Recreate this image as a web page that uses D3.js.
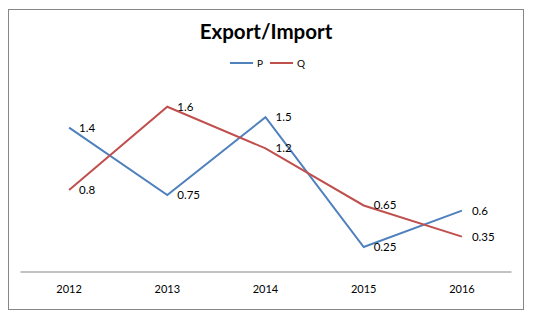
<!DOCTYPE html>
<html><head><meta charset="utf-8">
<script src="https://cdn.jsdelivr.net/npm/d3@7"></script>
<style>body{margin:0;background:#fff}svg{display:block}</style>
</head><body>
<script>
const categories = ["2012","2013","2014","2015","2016"];
const seriesP = [1.4, 0.75, 1.5, 0.25, 0.6];
const seriesQ = [0.8, 1.6, 1.2, 0.65, 0.35];
const seriesNames = ["P","Q"];
const colors = ["#4F81BD","#C0504D"];
const title = "Export/Import";

const W = 552, H = 332;
const svg = d3.select("body").append("svg").attr("width", W).attr("height", H);
const font = "Lato, 'Open Sans', sans-serif";

svg.append("rect").attr("x",8.5).attr("y",9.5).attr("width",515).attr("height",300)
  .attr("fill","#fff").attr("stroke","#868686").attr("stroke-width",1);

const x = d3.scaleBand().domain(categories).range([20, 511]);
const y = d3.scaleLinear().domain([0, 1.8]).range([273, 86]);

svg.append("text").attr("x",266).attr("y",39).attr("text-anchor","middle")
  .attr("font-family",font).attr("font-weight","bold").attr("font-size",20.5).text(title);

// legend
const leg = [{x:230},{x:270}];
seriesNames.forEach((n,i)=>{
  svg.append("line").attr("x1",leg[i].x).attr("x2",leg[i].x+23).attr("y1",63).attr("y2",63)
    .attr("stroke",colors[i]).attr("stroke-width",2);
  svg.append("text").attr("x",leg[i].x+27).attr("y",66.5).attr("font-family",font)
    .attr("font-size",10).text(n);
});

// axis
const axis = svg.append("g").attr("transform","translate(0,271.5)")
  .call(d3.axisBottom(x).tickSize(0).tickPadding(14));
axis.select(".domain").attr("stroke","#868686");
axis.selectAll("text").attr("font-family",font).attr("font-size",11).attr("fill","#000");

const cx = d => x(d) + x.bandwidth()/2;
const line = d3.line().x((d,i)=>cx(categories[i])).y(d=>y(d));
[seriesP, seriesQ].forEach((s,k)=>{
  svg.append("path").datum(s).attr("d",line).attr("fill","none")
    .attr("stroke",colors[k]).attr("stroke-width",2);
});
[seriesP, seriesQ].forEach((s,k)=>{
  svg.selectAll(null).data(s).enter().append("text")
    .attr("x",(d,i)=>cx(categories[i])+10).attr("y",d=>y(d)+4)
    .attr("font-family",font).attr("font-size",11.5).text(d=>d);
});
</script>
</body></html>
